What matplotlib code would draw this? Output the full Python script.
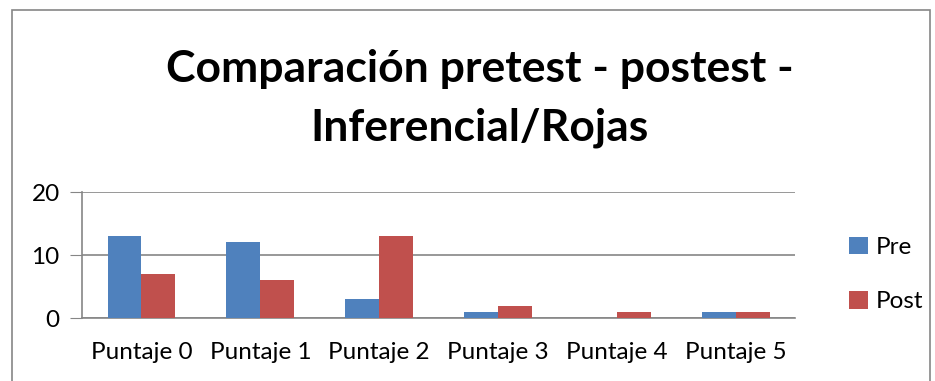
import matplotlib
matplotlib.use("Agg")
import matplotlib.pyplot as plt
import numpy as np

categories = ["Puntaje 0", "Puntaje 1", "Puntaje 2", "Puntaje 3", "Puntaje 4", "Puntaje 5"]
pre = [13, 12, 3, 1, 0, 1]
post = [7, 6, 13, 2, 1, 1]

plt.rcParams["font.family"] = ["Lato", "DejaVu Sans"]

fig = plt.figure(figsize=(9.35, 3.81), dpi=100)
ax = fig.add_axes([0.0877, 0.165, 0.763, 0.331])

x = np.arange(len(categories))
w = 0.285
ax.bar(x - w / 2, pre, w, color="#4f81bd", label="Pre", zorder=3)
ax.bar(x + w / 2, post, w, color="#c0504d", label="Post", zorder=3)

ax.set_xlim(-0.5, len(categories) - 0.5)
ax.set_ylim(0, 20)
ax.set_yticks([0, 10, 20])
ax.set_xticks(x)
ax.set_xticklabels(categories, fontsize=17.5)
ax.tick_params(axis="y", labelsize=17.5, length=9, color="#868686", pad=7)
ax.tick_params(axis="x", length=0, pad=17)
ax.grid(axis="y", color="#868686", linewidth=1.2, zorder=0)
for s in ["top", "right"]:
    ax.spines[s].set_visible(False)
for s in ["left", "bottom"]:
    ax.spines[s].set_color("#868686")
    ax.spines[s].set_linewidth(1.2)

fig.text(0.513, 0.82, "Comparación pretest - postest -", ha="center", va="center",
         fontsize=32, fontweight="bold")
fig.text(0.513, 0.665, "Inferencial/Rojas", ha="center", va="center",
         fontsize=32, fontweight="bold")

fig.legend(loc="center left", bbox_to_anchor=(0.885, 0.28), frameon=False,
           fontsize=17.5, handlelength=0.75, handleheight=0.75, labelspacing=1.35,
           handletextpad=0.35)

# outer chart border
fig.add_artist(plt.Rectangle((0.013, -0.01), 0.982, 0.983, transform=fig.transFigure,
                             fill=False, edgecolor="#868686", linewidth=1.2))

fig.savefig("out.png", dpi=100)
